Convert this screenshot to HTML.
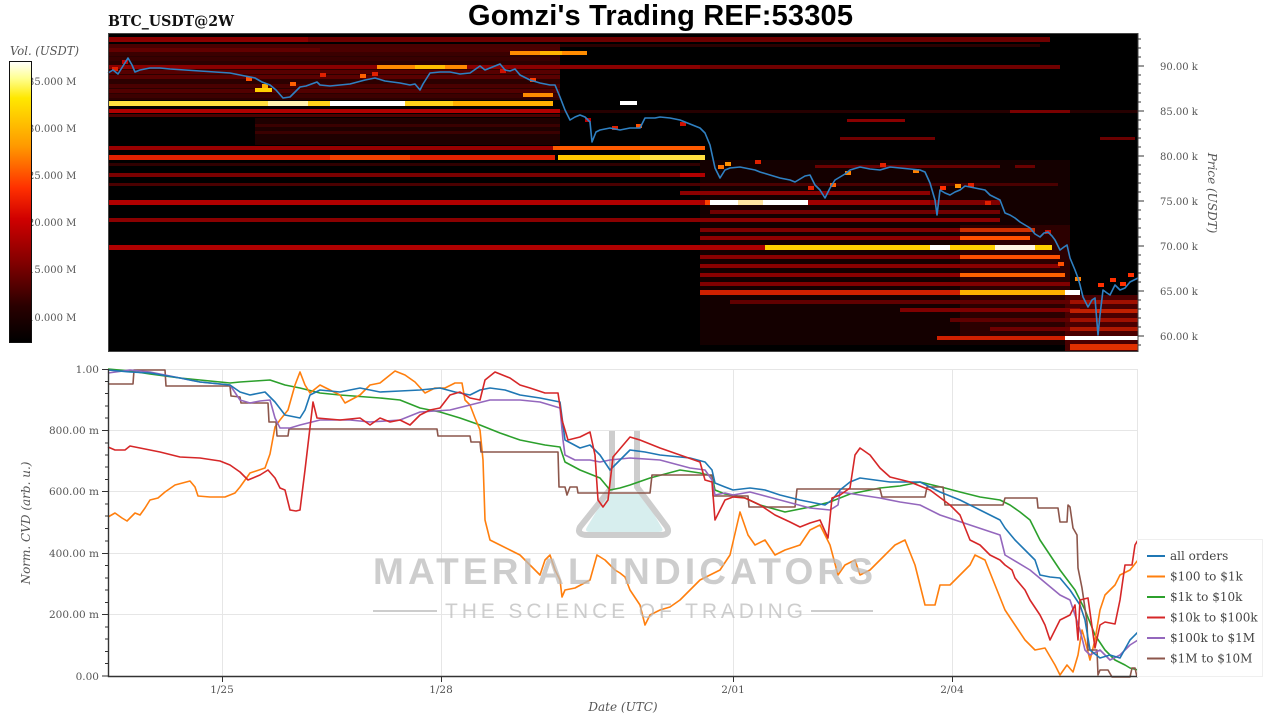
<!DOCTYPE html>
<html><head><meta charset="utf-8"><style>
html,body{margin:0;padding:0;background:#fff;width:1280px;height:720px;overflow:hidden}
svg{display:block}
</style></head><body>
<svg width="1280" height="720" viewBox="0 0 1280 720" xmlns="http://www.w3.org/2000/svg">
<defs>
<linearGradient id="cb" x1="0" y1="0" x2="0" y2="1">
<stop offset="0" stop-color="#ffffff"/><stop offset="0.06" stop-color="#ffff90"/><stop offset="0.13" stop-color="#ffe800"/><stop offset="0.3" stop-color="#ff9a00"/><stop offset="0.45" stop-color="#ff3000"/><stop offset="0.56" stop-color="#d00000"/><stop offset="0.72" stop-color="#800000"/><stop offset="0.87" stop-color="#2a0000"/><stop offset="1" stop-color="#000000"/>
</linearGradient>
</defs>
<rect width="1280" height="720" fill="#fff"/>

<!-- titles -->
<text x="108" y="26" font-family="DejaVu Serif, Liberation Serif, serif" font-weight="bold" font-size="15" fill="#111" textLength="126" lengthAdjust="spacingAndGlyphs">BTC_USDT@2W</text>
<text x="468" y="25" font-family="Liberation Sans, sans-serif" font-weight="bold" font-size="29" fill="#000" textLength="385" lengthAdjust="spacing">Gomzi's Trading REF:53305</text>

<!-- colorbar -->
<text x="10" y="55" font-family="DejaVu Serif, serif" font-style="italic" font-size="12" fill="#555" textLength="69" lengthAdjust="spacingAndGlyphs">Vol. (USDT)</text>
<g font-family="DejaVu Serif, serif" font-size="10" fill="#555">
<text x="28" y="85">35.000 M</text>
<text x="28" y="132">30.000 M</text>
<text x="28" y="179">25.000 M</text>
<text x="28" y="226">20.000 M</text>
<text x="28" y="273">15.000 M</text>
<text x="28" y="321">10.000 M</text>
</g>
<rect x="9.5" y="61.5" width="22" height="281" fill="url(#cb)" stroke="#111" stroke-width="1"/>

<!-- heatmap -->
<rect x="108" y="33" width="1030" height="318" fill="#000"/>
<g>
<!-- background tints -->
<rect x="108" y="44" width="452" height="56" fill="#2c0000"/>
<rect x="255" y="118" width="305" height="27" fill="#1e0000"/>
<rect x="700" y="160" width="370" height="185" fill="#140000"/>
<rect x="960" y="225" width="110" height="115" fill="#2c0000"/>
<rect x="1065" y="295" width="73" height="56" fill="#4a0000"/>
<!-- rows -->
<rect x="108" y="37" width="942" height="5" fill="#6e0000"/>
<rect x="108" y="37" width="200" height="5" fill="#8c0000"/>
<rect x="108" y="44" width="452" height="4" fill="#4a0000"/>
<rect x="560" y="44" width="480" height="3" fill="#2a0000"/>
<rect x="108" y="48" width="212" height="4" fill="#620000"/>
<rect x="320" y="48" width="240" height="4" fill="#4c0000"/>
<rect x="108" y="52" width="402" height="4" fill="#3a0000"/>
<rect x="510" y="51" width="77" height="4" fill="#ff8c00"/>
<rect x="540" y="51" width="22" height="4" fill="#ffb400"/>
<rect x="108" y="57" width="452" height="4" fill="#380000"/>
<rect x="108" y="65" width="592" height="4" fill="#8a0000"/>
<rect x="700" y="65" width="360" height="4" fill="#700000"/>
<rect x="377" y="65" width="90" height="4" fill="#ff8a00"/>
<rect x="415" y="65" width="30" height="4" fill="#ffbe00"/>
<rect x="108" y="70" width="452" height="4" fill="#560000"/>
<rect x="108" y="75" width="452" height="4" fill="#5a0000"/>
<rect x="108" y="84" width="452" height="4" fill="#4a0000"/>
<rect x="108" y="89" width="452" height="4" fill="#520000"/>
<rect x="255" y="88" width="17" height="4" fill="#ffd000"/>
<rect x="108" y="94" width="452" height="4" fill="#3c0000"/>
<rect x="523" y="93" width="30" height="4" fill="#ff8a00"/>
<rect x="108" y="101" width="445" height="5" fill="#ffd21a"/>
<rect x="108" y="101" width="160" height="5" fill="#ffe040"/>
<rect x="268" y="101" width="40" height="5" fill="#fff3b0"/>
<rect x="330" y="101" width="75" height="5" fill="#ffffff"/>
<rect x="453" y="101" width="100" height="5" fill="#ffb000"/>
<rect x="620" y="101" width="17" height="4" fill="#ffffff"/>
<rect x="108" y="109" width="452" height="4" fill="#b00000"/>
<rect x="560" y="110" width="578" height="3" fill="#260000"/>
<rect x="1010" y="110" width="60" height="3" fill="#7a0000"/>
<rect x="108" y="114" width="452" height="3" fill="#4c0000"/>
<rect x="255" y="124" width="305" height="3" fill="#3a0000"/>
<rect x="255" y="131" width="305" height="3" fill="#3a0000"/>
<rect x="847" y="119" width="58" height="3" fill="#8a0000"/>
<rect x="840" y="137" width="95" height="3" fill="#700000"/>
<rect x="1100" y="137" width="35" height="3" fill="#6a0000"/>
<rect x="108" y="146" width="447" height="4" fill="#9a0000"/>
<rect x="553" y="146" width="152" height="4" fill="#ff5a00"/>
<rect x="108" y="155" width="447" height="5" fill="#e02000"/>
<rect x="330" y="155" width="80" height="5" fill="#f04000"/>
<rect x="558" y="155" width="147" height="5" fill="#ffc800"/>
<rect x="640" y="155" width="65" height="5" fill="#ffe040"/>
<rect x="108" y="163" width="592" height="3" fill="#300000"/>
<rect x="815" y="165" width="185" height="3" fill="#6a0000"/>
<rect x="1015" y="165" width="20" height="3" fill="#6a0000"/>
<rect x="108" y="173" width="597" height="4" fill="#7a0000"/>
<rect x="680" y="173" width="25" height="4" fill="#b00000"/>
<rect x="108" y="183" width="950" height="3" fill="#4a0000"/>
<rect x="680" y="191" width="250" height="4" fill="#8a0000"/>
<rect x="108" y="200" width="597" height="5" fill="#b00000"/>
<rect x="705" y="200" width="5" height="5" fill="#ff4000"/>
<rect x="710" y="200" width="98" height="5" fill="#ffffff"/>
<rect x="738" y="200" width="25" height="5" fill="#ffe4a0"/>
<rect x="808" y="200" width="122" height="5" fill="#a00000"/>
<rect x="930" y="200" width="70" height="5" fill="#800000"/>
<rect x="710" y="210" width="290" height="4" fill="#700000"/>
<rect x="108" y="218" width="892" height="4" fill="#8a0000"/>
<rect x="700" y="228" width="260" height="4" fill="#800000"/>
<rect x="960" y="228" width="75" height="4" fill="#d03000"/>
<rect x="700" y="236" width="330" height="4" fill="#900000"/>
<rect x="960" y="236" width="70" height="4" fill="#ff5000"/>
<rect x="108" y="245" width="657" height="5" fill="#b00000"/>
<rect x="765" y="245" width="287" height="5" fill="#ffd000"/>
<rect x="930" y="245" width="20" height="5" fill="#ffffff"/>
<rect x="995" y="245" width="40" height="5" fill="#fff6e0"/>
<rect x="700" y="255" width="360" height="4" fill="#8a0000"/>
<rect x="960" y="255" width="100" height="4" fill="#ff5000"/>
<rect x="700" y="264" width="360" height="4" fill="#8a0000"/>
<rect x="700" y="273" width="365" height="4" fill="#8a0000"/>
<rect x="960" y="273" width="105" height="4" fill="#ff6000"/>
<rect x="700" y="282" width="370" height="4" fill="#800000"/>
<rect x="700" y="290" width="365" height="5" fill="#d02000"/>
<rect x="960" y="290" width="105" height="5" fill="#ffb000"/>
<rect x="1065" y="290" width="15" height="5" fill="#ffffff"/>
<rect x="730" y="300" width="345" height="4" fill="#600000"/>
<rect x="900" y="308" width="180" height="4" fill="#800000"/>
<rect x="950" y="318" width="140" height="4" fill="#600000"/>
<rect x="990" y="327" width="110" height="4" fill="#700000"/>
<rect x="1070" y="300" width="68" height="4" fill="#a01000"/>
<rect x="1070" y="309" width="68" height="4" fill="#c02000"/>
<rect x="1070" y="318" width="68" height="4" fill="#a01000"/>
<rect x="1070" y="327" width="68" height="4" fill="#b01800"/>
<rect x="937" y="336" width="128" height="4" fill="#d02000"/>
<rect x="1065" y="336" width="73" height="4" fill="#ffffff"/>
<rect x="1070" y="344" width="68" height="6" fill="#e03000"/>
<!-- cells near price -->
<g>
<rect x="112" y="67" width="6" height="4" fill="#e02000"/><rect x="122" y="60" width="6" height="4" fill="#c00000"/>
<rect x="246" y="77" width="6" height="4" fill="#ff5000"/><rect x="262" y="84" width="6" height="4" fill="#ffb000"/>
<rect x="290" y="82" width="6" height="4" fill="#ff6000"/><rect x="320" y="73" width="6" height="4" fill="#e02000"/>
<rect x="360" y="74" width="6" height="4" fill="#ff6000"/><rect x="372" y="72" width="6" height="4" fill="#e02000"/>
<rect x="500" y="69" width="6" height="4" fill="#d01000"/><rect x="530" y="78" width="6" height="4" fill="#ff4000"/>
<rect x="585" y="118" width="6" height="4" fill="#c00000"/><rect x="612" y="126" width="6" height="4" fill="#e02000"/>
<rect x="636" y="124" width="6" height="4" fill="#ff5000"/><rect x="680" y="122" width="6" height="4" fill="#d01000"/>
<rect x="718" y="165" width="6" height="4" fill="#ff7000"/><rect x="725" y="162" width="6" height="4" fill="#ff9000"/>
<rect x="755" y="160" width="6" height="4" fill="#e02000"/><rect x="808" y="186" width="6" height="4" fill="#e02000"/>
<rect x="830" y="183" width="6" height="4" fill="#ff6000"/><rect x="845" y="171" width="6" height="4" fill="#ff8000"/>
<rect x="880" y="163" width="6" height="4" fill="#e02000"/><rect x="913" y="169" width="6" height="4" fill="#ff8000"/>
<rect x="940" y="186" width="6" height="4" fill="#ff3000"/><rect x="955" y="184" width="6" height="4" fill="#ff9000"/>
<rect x="968" y="183" width="6" height="4" fill="#e02000"/><rect x="985" y="201" width="6" height="4" fill="#e02000"/>
<rect x="1045" y="230" width="6" height="4" fill="#d01000"/><rect x="1058" y="262" width="6" height="4" fill="#ff5000"/>
<rect x="1075" y="277" width="6" height="4" fill="#ff8000"/><rect x="1095" y="309" width="6" height="4" fill="#e02000"/>
<rect x="1098" y="283" width="6" height="4" fill="#ff3000"/><rect x="1110" y="278" width="6" height="4" fill="#ff3000"/>
<rect x="1120" y="282" width="6" height="4" fill="#ff3000"/><rect x="1128" y="273" width="6" height="4" fill="#ff3000"/>
</g>
</g>
<!-- price line -->
<polyline fill="none" stroke="#2f80c2" stroke-width="1.6" stroke-linejoin="round" points="108,73 113,70 118,74 123,66 128,58 132,65 135,72 140,70 150,68 160,68 170,69 185,70 200,71 215,72 230,73 245,76 255,78 262,82 270,85 276,90 283,98 290,97 296,91 300,87 306,86 317,82 320,85 330,86 340,85 350,84 365,80 375,78 385,81 400,83 410,85 415,84 420,90 423,84 430,73 440,72 450,72 460,74 470,73 480,66 485,70 490,68 500,64 505,70 510,71 515,69 520,75 530,80 540,83 550,85 555,85 560,97 565,110 570,120 575,117 580,115 585,117 590,122 592,142 596,132 600,130 610,128 620,130 630,128 640,128 645,118 655,118 660,117 670,118 680,120 690,124 700,128 705,133 710,145 715,168 720,178 725,170 730,168 740,167 745,168 755,170 760,172 770,175 780,178 790,180 795,182 805,176 810,175 815,185 820,190 825,198 830,188 835,180 845,174 850,170 860,167 870,169 880,170 890,167 900,168 910,169 920,170 925,172 930,183 935,200 937,215 940,190 945,193 950,195 955,192 960,190 965,186 975,188 985,190 990,195 1000,200 1005,213 1010,215 1015,218 1020,222 1030,228 1035,234 1040,237 1044,233 1048,232 1052,236 1055,240 1060,250 1064,247 1067,245 1070,258 1075,270 1078,278 1080,285 1083,297 1088,307 1092,300 1095,298 1098,335 1100,315 1103,290 1107,293 1110,295 1115,285 1120,290 1125,288 1130,282 1134,280 1138,278"/>
<rect x="108.5" y="33.5" width="1029.5" height="318" fill="none" stroke="#444" stroke-width="1"/>

<!-- right axis ticks -->
<g stroke="#333" stroke-width="1">
<path d="M1138 66h6M1138 111h6M1138 156h6M1138 201h6M1138 246h6M1138 291h6M1138 336h6"/>
<path d="M1138 39h3M1138 48h3M1138 57h3M1138 75h3M1138 84h3M1138 93h3M1138 102h3M1138 120h3M1138 129h3M1138 138h3M1138 147h3M1138 165h3M1138 174h3M1138 183h3M1138 192h3M1138 210h3M1138 219h3M1138 228h3M1138 237h3M1138 255h3M1138 264h3M1138 273h3M1138 282h3M1138 300h3M1138 309h3M1138 318h3M1138 327h3M1138 345h3"/>
</g>
<g font-family="DejaVu Serif, serif" font-size="10" fill="#555">
<text x="1160" y="70">90.00 k</text>
<text x="1160" y="115">85.00 k</text>
<text x="1160" y="160">80.00 k</text>
<text x="1160" y="205">75.00 k</text>
<text x="1160" y="250">70.00 k</text>
<text x="1160" y="295">65.00 k</text>
<text x="1160" y="340">60.00 k</text>
</g>
<text transform="translate(1208,193) rotate(90)" text-anchor="middle" font-family="DejaVu Serif, serif" font-style="italic" font-size="12" fill="#555">Price (USDT)</text>

<!-- bottom chart -->
<g stroke="#e6e6e6" stroke-width="1">
<path d="M108 369.5H1138M108 430.5H1138M108 491.5H1138M108 553.5H1138M108 614.5H1138"/>
<path d="M222.5 369V676M441.5 369V676M733.5 369V676M952.5 369V676M1137.5 369V676"/>
</g>

<!-- watermark flask -->
<g>
<path d="M607,494 L642,494 L662,528 Q664,532 658,532 L590,532 Q584,532 587,527 Z" fill="#d7eeee"/>
<path d="M612,431 L612,487 L580,527 Q576,535 588,535 L660,535 Q671,535 667,527 L637,487 L637,431" fill="none" stroke="#cdcdcd" stroke-width="6" stroke-linejoin="round"/>
</g>

<g fill="none" stroke-width="1.6" stroke-linejoin="round">
<polyline stroke="#2ca02c" points="108,369 130,371 150,374 180,378 200,380 230,383 240,382 255,381 270,380 285,385 300,388 320,393 340,395 380,398 400,400 420,408 440,412 460,418 480,425 500,433 520,440 545,445 560,447 565,462 580,470 600,478 610,490 620,488 630,485 650,478 665,474 680,470 700,473 712,476 715,490 725,494 733,495 745,498 760,505 785,512 810,507 830,502 850,494 880,488 900,486 920,482 945,488 960,492 980,497 1000,500 1010,505 1020,512 1030,520 1040,540 1050,555 1060,570 1075,590 1085,610 1095,635 1105,650 1115,660 1125,665 1130,668 1138,670"/>
<polyline stroke="#ff7f0e" points="108,517 115,513 122,518 127,521 135,513 140,515 145,508 150,500 158,498 165,492 175,485 190,481 195,487 198,496 210,497 225,497 235,493 240,487 250,473 265,468 270,454 275,427 280,420 288,410 295,385 300,372 305,385 310,393 320,385 330,390 340,395 345,403 360,395 370,385 380,383 390,375 395,371 405,375 415,382 425,393 435,388 445,388 455,383 462,383 465,400 470,405 475,418 480,430 483,460 485,520 490,540 500,545 510,550 520,555 530,565 540,575 545,560 550,555 555,570 560,580 562,597 565,590 575,588 590,580 597,555 605,560 615,570 620,573 625,577 630,590 640,605 645,625 650,615 660,610 670,607 680,600 690,590 700,580 710,575 720,570 730,555 740,512 748,535 755,545 765,540 775,555 785,550 800,545 810,530 820,525 830,545 838,575 845,565 855,560 860,575 870,570 885,555 895,545 905,540 915,565 925,605 935,605 940,585 950,585 960,575 970,565 975,555 985,560 995,585 1005,610 1015,625 1025,640 1035,650 1045,648 1055,665 1060,675 1067,665 1073,672 1078,655 1082,630 1085,640 1090,660 1095,640 1100,610 1105,595 1110,590 1115,585 1120,575 1130,570 1138,560"/>
<polyline stroke="#8c564b" points="108,384 133,384 134,370 165,370 166,386 230,386 231,396 240,397 241,403 268,403 269,422 276,422 277,436 288,436 289,429 437,429 438,436 470,436 471,442 480,442 481,452 558,452 559,487 565,487 567,495 570,487 577,487 578,493 650,493 652,475 712,475 713,496 748,496 749,507 795,507 797,489 880,489 882,497 925,497 927,487 943,487 945,505 1003,505 1005,498 1037,498 1038,508 1058,508 1060,522 1067,522 1068,505 1070,507 1073,528 1077,535 1078,568 1082,588 1087,622 1088,650 1097,650 1098,675 1100,670 1108,670 1112,677 1130,677 1132,668 1135,668 1137,677"/>
<polyline stroke="#9467bd" points="108,373 130,370 150,372 180,378 200,382 230,385 240,400 250,403 260,401 270,400 275,418 280,428 290,428 300,425 320,420 350,420 370,422 400,420 420,412 450,410 470,405 490,400 520,400 540,402 560,408 563,440 565,455 575,460 590,460 600,462 610,460 630,458 660,460 690,468 705,470 712,480 715,495 725,493 733,495 750,492 780,500 810,508 830,510 838,505 840,492 860,495 880,498 900,502 920,505 940,515 970,525 1000,535 1005,555 1030,570 1060,595 1070,600 1080,630 1085,650 1090,655 1100,650 1110,660 1120,655 1130,645 1138,640"/>
<polyline stroke="#1f77b4" points="108,370 130,372 150,373 180,378 200,382 230,385 240,392 250,395 265,392 275,402 285,415 300,418 305,410 310,395 320,390 340,392 360,388 380,392 400,391 420,390 440,388 455,392 470,395 480,390 490,388 505,390 520,395 540,398 560,402 563,425 565,440 580,448 590,445 600,455 610,470 615,465 620,460 630,450 645,452 660,455 690,458 705,462 712,470 715,483 725,487 733,490 750,488 765,490 780,495 800,500 815,503 825,505 832,500 840,490 850,482 860,478 875,480 890,482 920,482 940,492 960,500 980,510 1000,520 1005,528 1015,540 1025,550 1035,560 1040,575 1050,577 1060,578 1070,590 1080,605 1085,620 1090,650 1100,658 1110,655 1120,658 1130,640 1138,632"/>
<polyline stroke="#d62728" points="108,447 115,450 125,450 130,446 140,448 160,452 180,457 200,458 220,461 230,465 240,472 248,480 260,475 268,470 275,478 280,488 285,490 290,510 296,511 300,510 305,470 313,402 317,418 340,420 360,418 370,425 380,418 390,422 400,420 410,425 420,415 430,410 440,408 450,395 460,392 470,398 480,400 485,380 495,372 510,378 520,385 530,388 545,393 558,393 562,420 568,440 580,437 590,432 595,455 598,500 603,507 608,500 613,457 630,437 640,440 660,448 680,455 700,462 705,480 712,482 715,520 725,500 733,497 745,498 760,505 775,515 790,522 800,527 810,523 820,520 828,538 832,498 840,495 850,488 855,455 860,448 870,455 880,468 890,477 910,482 930,490 950,505 960,515 970,540 980,545 990,555 1000,560 1005,565 1012,570 1015,578 1025,590 1030,600 1040,615 1045,625 1050,640 1060,620 1070,615 1075,605 1078,640 1080,600 1088,598 1095,648 1100,625 1105,622 1115,624 1120,600 1125,565 1132,565 1135,545 1138,540"/>
</g>

<!-- watermark text -->
<g fill="#bcbcbc" fill-opacity="0.75">
<text x="373" y="584" font-family="Liberation Sans, sans-serif" font-weight="bold" font-size="37" textLength="500" lengthAdjust="spacing">MATERIAL INDICATORS</text>
<text x="445" y="618" font-family="Liberation Sans, sans-serif" font-size="21" textLength="358" lengthAdjust="spacing">THE SCIENCE OF TRADING</text>
</g>
<path d="M373 611H437M811 611H873" stroke="#bcbcbc" stroke-opacity="0.75" stroke-width="2"/>

<!-- axes -->
<path d="M108.5 369V676.5H1138" fill="none" stroke="#333" stroke-width="1.4"/>
<g stroke="#333" stroke-width="1">
<path d="M102 369.5h6M102 430.5h6M102 491.5h6M102 553.5h6M102 614.5h6M102 676h6"/>
<path d="M105 381.5h3M105 393.5h3M105 406h3M105 418h3M105 443h3M105 455h3M105 467h3M105 479.5h3M105 504h3M105 516h3M105 528.5h3M105 541h3M105 565.5h3M105 578h3M105 590h3M105 602.5h3M105 627h3M105 639h3M105 651.5h3M105 663.5h3"/>
<path d="M222.5 676v6M441.5 676v6M733.5 676v6M952.5 676v6"/>
</g>
<g font-family="DejaVu Serif, serif" font-size="10.5" fill="#555" text-anchor="end">
<text x="99" y="373">1.00</text>
<text x="99" y="434">800.00 m</text>
<text x="99" y="495">600.00 m</text>
<text x="99" y="557">400.00 m</text>
<text x="99" y="618">200.00 m</text>
<text x="99" y="680">0.00</text>
</g>
<g font-family="DejaVu Serif, serif" font-size="10.5" fill="#555" text-anchor="middle">
<text x="222" y="693">1/25</text>
<text x="441" y="693">1/28</text>
<text x="733" y="693">2/01</text>
<text x="952" y="693">2/04</text>
</g>
<text x="623" y="711" text-anchor="middle" font-family="DejaVu Serif, serif" font-style="italic" font-size="12" fill="#555">Date (UTC)</text>
<text transform="translate(30,523) rotate(-90)" text-anchor="middle" font-family="DejaVu Serif, serif" font-style="italic" font-size="12" fill="#555">Norm. CVD (arb. u.)</text>

<!-- legend -->
<rect x="1137.5" y="539.5" width="125" height="137" fill="#fff" stroke="#efefef"/>
<g stroke-width="2">
<path d="M1147 556h18" stroke="#1f77b4"/>
<path d="M1147 576.5h18" stroke="#ff7f0e"/>
<path d="M1147 597h18" stroke="#2ca02c"/>
<path d="M1147 617.5h18" stroke="#d62728"/>
<path d="M1147 638h18" stroke="#9467bd"/>
<path d="M1147 658.5h18" stroke="#8c564b"/>
</g>
<g font-family="DejaVu Serif, serif" font-size="12" fill="#444">
<text x="1170" y="560">all orders</text>
<text x="1170" y="580.5">$100 to $1k</text>
<text x="1170" y="601">$1k to $10k</text>
<text x="1170" y="621.5">$10k to $100k</text>
<text x="1170" y="642">$100k to $1M</text>
<text x="1170" y="662.5">$1M to $10M</text>
</g>
</svg>
</body></html>
